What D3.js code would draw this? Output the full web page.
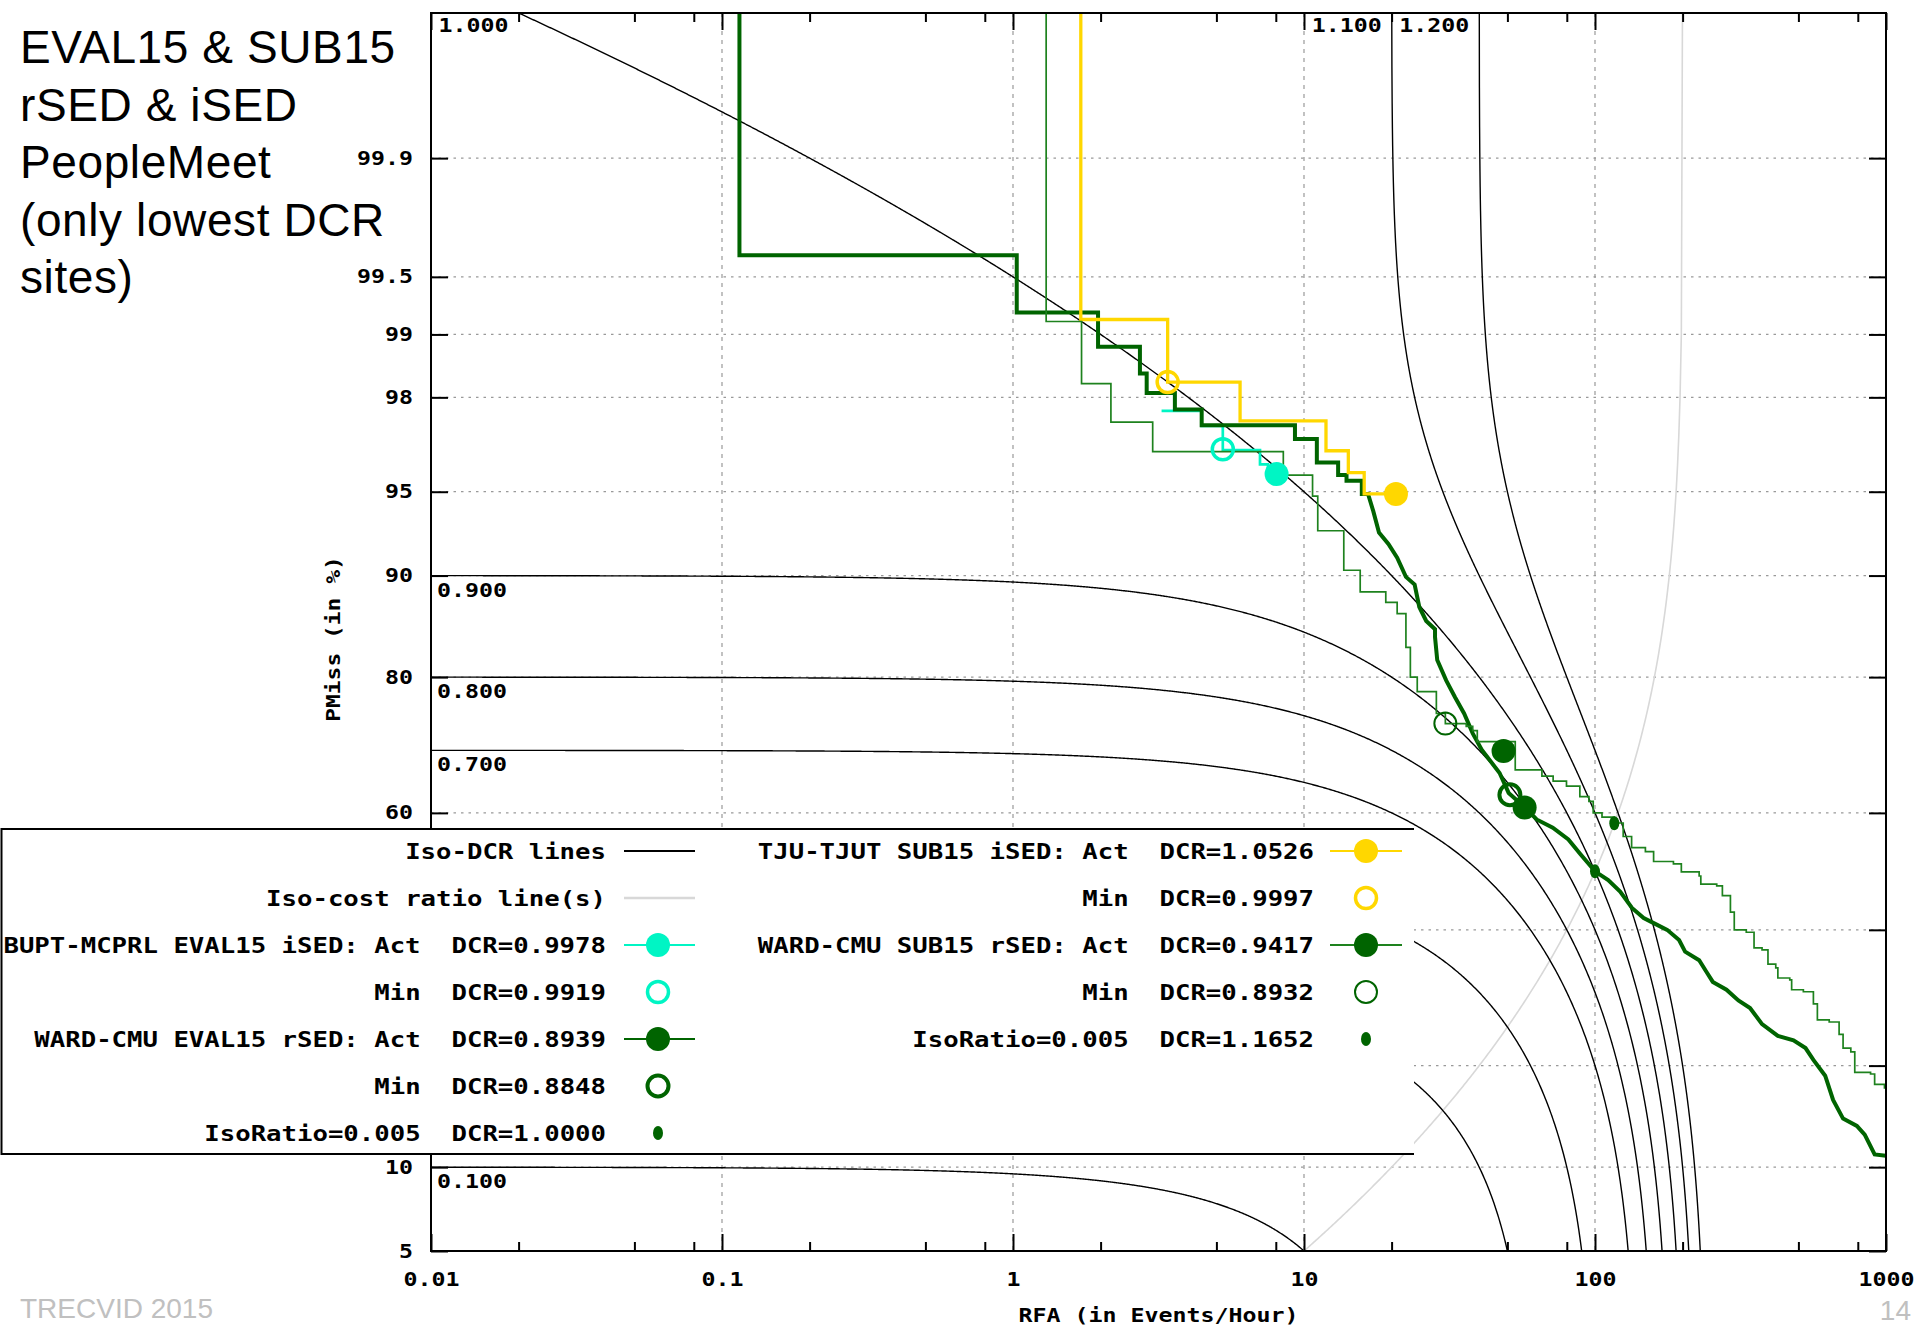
<!DOCTYPE html>
<html><head><meta charset="utf-8">
<script src="https://cdn.jsdelivr.net/npm/d3@7"></script>
<style>body{margin:0;background:#fff;}svg{display:block;}</style>
</head><body>
<svg id="c" width="1920" height="1328"></svg>
<script>
// ---------------- DATA ----------------
const BETA = 0.005;                       // DCR = PMiss + BETA * RFA
const xTickValues = [0.01, 0.1, 1, 10, 100, 1000];
const xTickLabels = ["0.01", "0.1", "1", "10", "100", "1000"];
const xMinorTicks = [0.02, 0.05, 0.08, 0.2, 0.5, 0.8, 2, 5, 8, 20, 50, 80, 200, 500, 800];
const xGridValues = [0.1, 1, 10, 100];
const yTickValues = [5, 10, 20, 40, 60, 80, 90, 95, 98, 99, 99.5, 99.9];
const yTickLabels = ["5", "10", "20", "40", "60", "80", "90", "95", "98", "99", "99.5", "99.9"];
const isoDcrLevels = [0.1, 0.3, 0.5, 0.7, 0.8, 0.9, 1.0, 1.1, 1.2];
const isoDcrLabels = ["0.100", "0.300", "0.500", "0.700", "0.800", "0.900", "1.000", "1.100", "1.200"];
const titleLines = ["EVAL15 & SUB15", "rSED & iSED", "PeopleMeet", "(only lowest DCR", "sites)"];

// DET curves: [RFA (events/hour), PMiss (%)]
const curveBUPT = [[3.24,97.70],[4.45,97.70],[4.45,97.32],[5.26,97.32],[5.26,96.60],[7.06,96.60],[7.06,96.11],[7.52,96.11],[7.52,95.74],[8.05,95.74]];
const curveWardEval = [[0.1148,99.995],[0.1148,99.62],[1.03,99.62],[1.03,99.226],[1.96,99.226],[1.96,98.85],[2.73,98.85],[2.73,98.45],[2.88,98.45],[2.88,98.09],[3.60,98.09],[3.60,97.73],[4.45,97.73],[4.45,97.34],[9.31,97.34],[9.31,96.95],[11.07,96.95],[11.07,96.18],[13.1,96.18],[13.1,95.70],[14.0,95.70],[14.0,95.47],[15.8,95.47],[15.8,94.9],[16.6,94.9],[17.3,94.07],[18.1,92.9],[19.5,92.2],[20.9,91.3],[22.4,89.9],[24.0,89.3],[24.9,87.4],[26.3,86.1],[28.2,85.3],[28.2,84.5],[28.7,82.0],[30.8,79.6],[33.0,77.5],[35.5,75.3],[38.0,72.5],[40.8,70.1],[47.0,66.5],[50.5,63.3],[57.5,60.9],[63,58.9],[71.6,57.5],[81,55.5],[89,53.0],[100,50.0],[111,48.5],[122,46.5],[134,43.7],[147,42.0],[161,41.0],[177,40.0],[194.5,38.3],[204,36.4],[228,35.0],[242,33.1],[254,31.6],[283,30.4],[311,28.8],[341,27.7],[375,25.4],[425,23.8],[481,23.2],[529,22.2],[563,20.7],[618,18.8],[658,16.1],[712,14.2],[794,13.5],[845,12.7],[914,11.0],[1000,10.9]];
const curveTJU = [[1.71,99.995],[1.71,99.16],[3.40,99.16],[3.40,98.30],[6.03,98.30],[6.03,97.45],[11.9,97.45],[11.9,96.58],[14.2,96.58],[14.2,95.80],[16.1,95.80],[16.1,94.9],[20.7,94.9]];
// step points: at RFA x the curve drops to PMiss y
const curveWardSub = [[1.30,99.995],[1.30,99.14],[1.72,98.27],[2.17,97.42],[3.02,96.55],[8.49,95.70],[10.7,94.8],[11.15,93.0],[13.7,90.4],[15.6,88.7],[19.1,87.8],[20.9,86.8],[22.4,83.4],[23.2,80.0],[24.5,78.2],[28.5,75.3],[30.6,73.9],[36.1,73.5],[38.0,72.9],[39.4,71.3],[53.2,67.0],[65.7,66.0],[71.8,65.2],[79.8,64.4],[88.7,62.7],[95.3,61.9],[98.6,60.0],[105.7,59.3],[116.5,58.3],[125,56.0],[133.6,54.1],[149,53.4],[159,51.7],[186,51.3],[198,49.9],[228,49.2],[231,47.8],[262,47.5],[274,45.8],[292,43.0],[301,40.0],[331,39.6],[352,37.0],[375,36.7],[393,34.4],[418,33.8],[425,32.2],[467,31.9],[474,30.4],[520,30.1],[563,28.3],[581,26.0],[638,25.7],[690,24.0],[712,22.2],[757,21.7],[781,19.2],[885,19.0],[914,17.8],[988,17.4],[1000,16.5]];

const sysNames = ["BUPT-MCPRL EVAL15 iSED", "WARD-CMU EVAL15 rSED", "TJU-TJUT SUB15 iSED", "WARD-CMU SUB15 rSED"];
const actDCR = ["0.9978", "0.8939", "1.0526", "0.9417"];
const minDCR = ["0.9919", "0.8848", "0.9997", "0.8932"];
const actPts = [[8.05,95.74],[57.3,60.9],[20.7,94.9],[48.5,69.9]];
const minPts = [[5.26,96.63],[51,63.0],[3.40,98.3],[30.6,73.9]];
const isoRatioValue = "0.005";
const isoRatioDCR = ["1.0000", "1.1652"];
const isoRatioPts = [[100,50.0],[116.5,58.26]];

// ---------------- STYLE ----------------
const sysColor = ["#00F5C4", "#006400", "#FFD700", "#1E821E"];
const sysMarkColor = ["#00F5C4", "#006400", "#FFD700", "#006400"];
const sysWidth = [2.7, 4, 3.3, 1.7];
const minStroke = [3.5, 4, 3.5, 2];
const MONO = "'DejaVu Sans Mono','Liberation Mono',monospace";

// ---------------- HELPERS ----------------
function probit(p){
  const a=[-3.969683028665376e+01,2.209460984245205e+02,-2.759285104469687e+02,1.383577518672690e+02,-3.066479806614716e+01,2.506628277459239e+00];
  const b=[-5.447609879822406e+01,1.615858368580409e+02,-1.556989798598866e+02,6.680131188771972e+01,-1.328068155288572e+01];
  const c=[-7.784894002430293e-03,-3.223964580411365e-01,-2.400758277161838e+00,-2.549732539343734e+00,4.374664141464968e+00,2.938163982698783e+00];
  const d=[7.784695709041462e-03,3.224671290700398e-01,2.445134137142996e+00,3.754408661907416e+00];
  const pl=0.02425, ph=1-pl;
  if(p<pl){const q=Math.sqrt(-2*Math.log(p));return (((((c[0]*q+c[1])*q+c[2])*q+c[3])*q+c[4])*q+c[5])/((((d[0]*q+d[1])*q+d[2])*q+d[3])*q+1);}
  if(p<=ph){const q=p-0.5,r=q*q;return (((((a[0]*r+a[1])*r+a[2])*r+a[3])*r+a[4])*r+a[5])*q/(((((b[0]*r+b[1])*r+b[2])*r+b[3])*r+b[4])*r+1);}
  const q=Math.sqrt(-2*Math.log(1-p));return -(((((c[0]*q+c[1])*q+c[2])*q+c[3])*q+c[4])*q+c[5])/((((d[0]*q+d[1])*q+d[2])*q+d[3])*q+1);
}
const L=431, R=1886, T=13, B=1251;
const lgTop=829, lgBot=1154, lgRight=1414;
const underLegend = (px,py) => px < lgRight && py > lgTop && py < lgBot + 6;
const x = d3.scaleLog().domain([0.01,1000]).range([L,R]);
function makeY(){
  const lin = d3.scaleLinear().domain([probit(0.05), probit(0.9999)]).range([B,T]);
  const s = v => lin(probit(v/100));
  s.copy = makeY; s.range = () => lin.range();
  return s;
}
const y = makeY();
function fit(sel, cw){
  sel.each(function(){const t=d3.select(this);const s=t.text();if(s)t.attr("textLength", s.length*cw).attr("lengthAdjust","spacingAndGlyphs");});
}
const svg = d3.select("#c");
svg.append("rect").attr("width",1920).attr("height",1328).attr("fill","#fff");
svg.append("defs").append("clipPath").attr("id","plotclip").append("rect")
  .attr("x",L).attr("y",T).attr("width",R-L).attr("height",B-T);

// grid
const grid = svg.append("g");
grid.selectAll("line.v").data(xGridValues).join("line").attr("class","v")
  .attr("x1",d=>x(d)).attr("x2",d=>x(d)).attr("y1",T).attr("y2",B)
  .attr("stroke","#999").attr("stroke-width",1.2).attr("stroke-dasharray","4,5");
grid.selectAll("line.h").data(yTickValues.filter(v=>v>5)).join("line").attr("class","h")
  .attr("x1",L).attr("x2",R).attr("y1",d=>y(d)).attr("y2",d=>y(d))
  .attr("stroke","#999").attr("stroke-width",1.2).attr("stroke-dasharray","2.5,5");

const plot = svg.append("g").attr("clip-path","url(#plotclip)");
const line = d3.line().x(d=>x(d[0])).y(d=>y(d[1]));

// iso-cost ratio line PMiss = BETA*RFA
const r0i = 0.0499/BETA, r1i = 0.99995/BETA;
const isoRatioLine = d3.range(0,301).map(i=>{const r=r0i*Math.pow(r1i/r0i,i/300);return [r,BETA*r*100];});
plot.append("path").attr("d",line(isoRatioLine)).attr("fill","none").attr("stroke","#d8d8d8").attr("stroke-width",1.6);

// iso-DCR lines PMiss = DCR - BETA*RFA
isoDcrLevels.forEach(dv=>{
  const r0=Math.max(0.01,(dv-0.99995)/BETA), r1=Math.min(1000,(dv-0.0499)/BETA);
  const pts=d3.range(0,1201).map(i=>{const r=r0*Math.pow(r1/r0,i/1200);return [r,(dv-BETA*r)*100];});
  plot.append("path").attr("d",line(pts)).attr("fill","none").attr("stroke","#000").attr("stroke-width",1.4);
});

// DET curves
const curves = [curveBUPT, curveWardEval, curveTJU, curveWardSub];
curves.forEach((c,i)=>{
  const gen = i===3 ? d3.line().x(d=>x(d[0])).y(d=>y(d[1])).curve(d3.curveStepAfter) : line;
  plot.append("path").attr("d",gen(c)).attr("fill","none").attr("stroke",sysColor[i])
    .attr("stroke-width",sysWidth[i]).attr("stroke-linejoin","miter");
});
// markers
const mk = svg.append("g");
minPts.forEach((p,i)=>{
  mk.append("circle").attr("cx",x(p[0])).attr("cy",y(p[1])).attr("r",i===3?11:10.5)
    .attr("fill","none").attr("stroke",sysMarkColor[i]).attr("stroke-width",minStroke[i]);
});
actPts.forEach((p,i)=>{
  mk.append("circle").attr("cx",x(p[0])).attr("cy",y(p[1])).attr("r",12).attr("fill",sysMarkColor[i]);
});
isoRatioPts.forEach(p=>{
  mk.append("ellipse").attr("cx",x(p[0])).attr("cy",y(p[1])).attr("rx",5).attr("ry",7).attr("fill","#006400");
});

// iso-DCR labels (those that would sit under the legend box are hidden there, as in the original)
const lab = svg.append("g").attr("font-family",MONO).attr("font-weight","bold").attr("font-size",19).attr("fill","#000");
isoDcrLevels.forEach((dv,i)=>{
  if(dv<1){
    const ly = y(dv*100)+21;
    if(underLegend(L+6, ly)) return;
    lab.append("text").attr("x",L+6).attr("y",ly).text(isoDcrLabels[i]).call(fit,14);
  } else {
    const rt=(dv-0.9999)/BETA;
    lab.append("text").attr("x",x(rt)-10).attr("y",T+19).attr("text-anchor","end").text(isoDcrLabels[i]).call(fit,14);
  }
});

// axes
function styleAxis(g){
  g.select(".domain").remove();
  g.selectAll(".tick line").attr("stroke","#000").attr("stroke-width",2);
  g.selectAll("text").attr("font-family",MONO).attr("font-weight","bold").attr("font-size",19).attr("fill","#000").call(fit,14);
}
svg.append("g").attr("transform",`translate(0,${B})`)
  .call(d3.axisBottom(x).tickValues(xTickValues).tickFormat((d,i)=>xTickLabels[i]).tickSize(-17).tickPadding(22)).call(styleAxis);
svg.append("g").attr("transform",`translate(0,${B})`)
  .call(d3.axisBottom(x).tickValues(xMinorTicks).tickFormat("").tickSize(-9)).call(styleAxis);
svg.append("g").attr("transform",`translate(0,${T})`)
  .call(d3.axisTop(x).tickValues(xTickValues).tickFormat("").tickSize(-17)).call(styleAxis);
svg.append("g").attr("transform",`translate(0,${T})`)
  .call(d3.axisTop(x).tickValues(xMinorTicks).tickFormat("").tickSize(-9)).call(styleAxis);
svg.append("g").attr("transform",`translate(${L},0)`)
  .call(d3.axisLeft(y).tickValues(yTickValues)
    .tickFormat((d,i)=>underLegend(L-20, y(d)) ? "" : yTickLabels[i]).tickSize(-17).tickPadding(18)).call(styleAxis);
svg.append("g").attr("transform",`translate(${R},0)`)
  .call(d3.axisRight(y).tickValues(yTickValues).tickFormat("").tickSize(-17)).call(styleAxis);
svg.append("rect").attr("x",L).attr("y",T).attr("width",R-L).attr("height",B-T)
  .attr("fill","none").attr("stroke","#000").attr("stroke-width",2);

// axis titles
svg.append("text").attr("x",(L+R)/2).attr("y",1322).attr("text-anchor","middle")
  .attr("font-family",MONO).attr("font-weight","bold").attr("font-size",19).text("RFA (in Events/Hour)").call(fit,14);
svg.append("text").attr("transform","translate(340,639) rotate(-90)").attr("text-anchor","middle")
  .attr("font-family",MONO).attr("font-weight","bold").attr("font-size",19).text("PMiss (in %)").call(fit,13.8);

// title
const tt = svg.append("g").attr("font-family","'Liberation Sans',Arial,sans-serif").attr("font-size",46).attr("fill","#000");
titleLines.forEach((s,i)=>tt.append("text").attr("x",20).attr("y",63+i*57.5).attr("letter-spacing",0.6).text(s));

// footer
svg.append("text").attr("x",20).attr("y",1318).attr("font-family","'Liberation Sans',Arial,sans-serif")
  .attr("font-size",28).attr("fill","#c0c0c0").text("TRECVID 2015");
svg.append("text").attr("x",1911).attr("y",1320).attr("text-anchor","end").attr("font-family","'Liberation Sans',Arial,sans-serif")
  .attr("font-size",28).attr("fill","#c0c0c0").text("14");

// ---------------- LEGEND ----------------
const LG = svg.append("g");
LG.append("rect").attr("x",1).attr("y",lgTop).attr("width",lgRight-1).attr("height",lgBot-lgTop).attr("fill","#fff");
LG.append("path").attr("d",`M${lgRight},${lgTop}H1.5V${lgBot}H${lgRight}`).attr("fill","none").attr("stroke","#000").attr("stroke-width",2);
const rowY = i => 851 + i*47;
const cols = [{tx:606, mx:658, l0:624, l1:695},{tx:1314, mx:1366, l0:1330, l1:1402}];
const entries = [
  {c:0,r:0,text:"Iso-DCR lines",type:"line",color:"#000",w:2},
  {c:0,r:1,text:"Iso-cost ratio line(s)",type:"line",color:"#d8d8d8",w:2.5},
  {c:0,r:2,text:`${sysNames[0]}: Act  DCR=${actDCR[0]}`,type:"act",sys:0},
  {c:0,r:3,text:`Min  DCR=${minDCR[0]}`,type:"min",sys:0},
  {c:0,r:4,text:`${sysNames[1]}: Act  DCR=${actDCR[1]}`,type:"act",sys:1},
  {c:0,r:5,text:`Min  DCR=${minDCR[1]}`,type:"min",sys:1},
  {c:0,r:6,text:`IsoRatio=${isoRatioValue}  DCR=${isoRatioDCR[0]}`,type:"iso"},
  {c:1,r:0,text:`${sysNames[2]}: Act  DCR=${actDCR[2]}`,type:"act",sys:2},
  {c:1,r:1,text:`Min  DCR=${minDCR[2]}`,type:"min",sys:2},
  {c:1,r:2,text:`${sysNames[3]}: Act  DCR=${actDCR[3]}`,type:"act",sys:3},
  {c:1,r:3,text:`Min  DCR=${minDCR[3]}`,type:"min",sys:3},
  {c:1,r:4,text:`IsoRatio=${isoRatioValue}  DCR=${isoRatioDCR[1]}`,type:"iso"}
];
entries.forEach(e=>{
  const col=cols[e.c], yy=rowY(e.r);
  LG.append("text").attr("x",col.tx).attr("y",yy+7.5).attr("text-anchor","end").style("white-space","pre")
    .attr("font-family",MONO).attr("font-weight","bold").attr("font-size",21).attr("fill","#000").text(e.text).call(fit,15.45);
  if(e.type==="line"){
    LG.append("line").attr("x1",col.l0).attr("x2",col.l1).attr("y1",yy).attr("y2",yy).attr("stroke",e.color).attr("stroke-width",e.w);
  } else if(e.type==="act"){
    LG.append("line").attr("x1",col.l0).attr("x2",col.l1).attr("y1",yy).attr("y2",yy).attr("stroke",sysColor[e.sys]).attr("stroke-width",2);
    LG.append("circle").attr("cx",col.mx).attr("cy",yy).attr("r",12).attr("fill",sysMarkColor[e.sys]);
  } else if(e.type==="min"){
    LG.append("circle").attr("cx",col.mx).attr("cy",yy).attr("r",e.sys===3?11:10.5).attr("fill","none")
      .attr("stroke",sysMarkColor[e.sys]).attr("stroke-width",minStroke[e.sys]);
  } else {
    LG.append("ellipse").attr("cx",col.mx).attr("cy",yy).attr("rx",5).attr("ry",7).attr("fill","#006400");
  }
});
</script>
</body></html>
